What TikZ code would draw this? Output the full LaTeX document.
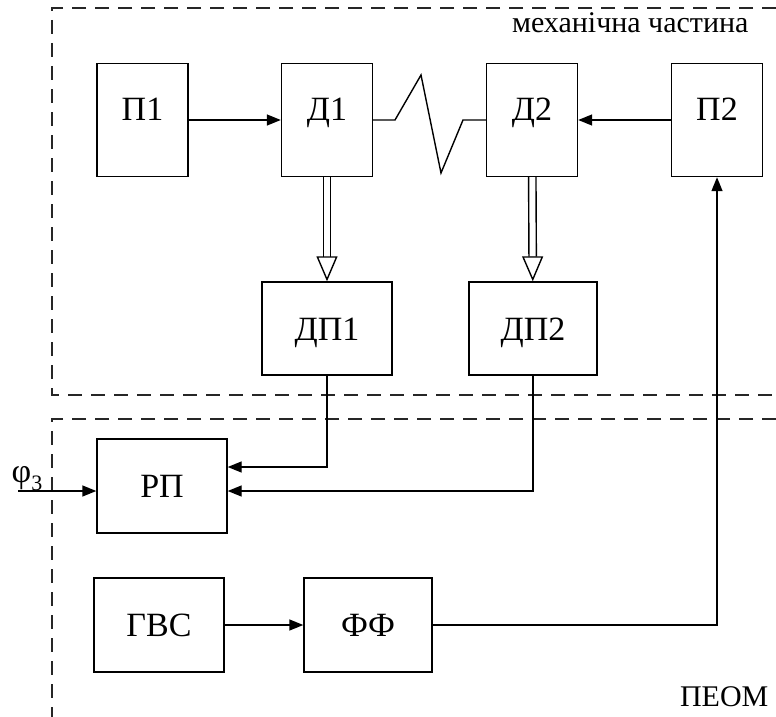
\documentclass[tikz,border=0pt]{standalone}
\usepackage{fontspec}
\setmainfont{Liberation Serif}
\usetikzlibrary{arrows.meta}
\usetikzlibrary{calc}

\begin{document}
\begin{tikzpicture}[x=1pt,y=-1pt,line width=1.4pt,
blok/.style={draw,font=\fontsize{34}{34}\selectfont,text height=23pt,text depth=0pt,inner sep=0pt},
verh/.style={blok,minimum width=91pt,minimum height=113pt,text depth=23pt},
ramka/.style={dash pattern=on 14pt off 9pt,line width=1.2pt,color=black!85},
strilka/.style={-{Triangle[length=14pt,width=11pt]}},
podvijna/.style={double distance=6pt,-{Triangle[open,length=25pt,width=21pt]}}]
\useasboundingbox (0,0) rectangle (776,717);

% ramky
\draw[ramka] (776,8) -- (52,8) -- (52,395) -- (776,395);
\draw[ramka] (776,419) -- (52,419) -- (52,717);
\node[anchor=base west,font=\fontsize{30}{30}\selectfont] (mech) at (508,33) {механічна частина};
\node[anchor=base west,font=\fontsize{30}{30}\selectfont] (peom) at (676,706) {ПЕОМ};

% mekhanichna chastyna
\node[verh] (P1) at (142.5,120) {П1};
\node[verh] (D1) at (327,120) {Д1};
\node[verh] (D2) at (532,120) {Д2};
\node[verh] (P2) at (717,120) {П2};
\node[blok,minimum width=130pt,minimum height=93pt] (DP1) at (327,328.5) {ДП1};
\node[blok,minimum width=128pt,minimum height=93pt] (DP2) at (533,328.5) {ДП2};

\draw[strilka] (P1) -- (D1);
\draw[strilka] (P2) -- (D2);
\draw (D1.east) -- (395,120) -- (421,75) -- (441,173) -- (463,120) -- (D2.west);
\draw[podvijna] (D1) -- (DP1);
\draw[podvijna] (D2) -- (DP2);

% PEOM
\node[blok,minimum width=130pt,minimum height=94pt] (RP) at (162,486) {РП};
\node[blok,minimum width=130pt,minimum height=94pt] (GVS) at (159,625) {ГВС};
\node[blok,minimum width=128pt,minimum height=94pt] (FF) at (368,625) {ФФ};
\coordinate (fi) at (18,491);
\node[anchor=base west,inner sep=0pt,font=\fontsize{34}{34}\selectfont] (fil) at (11,482) {φ\raisebox{-8pt}{\fontsize{22}{22}\selectfont 3}};

\draw[strilka] (DP1.south) |- ([yshift=19pt]RP.east);
\draw[strilka] (DP2.south) |- ([yshift=-5pt]RP.east);
\draw[strilka] (fi) -- ([yshift=-5pt]RP.west);
\draw[strilka] (GVS) -- (FF);
\draw[strilka] (FF.east) -| (P2.south);
\end{tikzpicture}
\end{document}
